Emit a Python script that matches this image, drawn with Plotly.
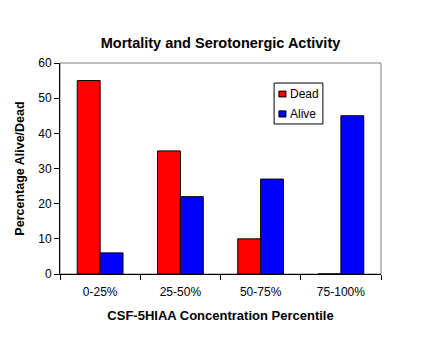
import plotly.graph_objects as go

categories = ["0-25%", "25-50%", "50-75%", "75-100%"]
series_names = ["Dead", "Alive"]
dead = [55, 35, 10, 0]
alive = [6, 22, 27, 45]
y_ticks = [0, 10, 20, 30, 40, 50, 60]
colors = ["#FF0000", "#0000FF"]

font_family = "Liberation Sans, Arial, sans-serif"

fig = go.Figure()
for name, vals, col in zip(series_names, [dead, alive], colors):
    fig.add_trace(go.Bar(name=name, x=categories, y=vals, showlegend=False,
                         marker=dict(color=col, line=dict(color="black", width=1))))

# compact legend box (matches the small classic-style legend)
shapes = [dict(type="rect", xref="paper", yref="paper", x0=0, x1=1, y0=0, y1=1,
               line=dict(color="#808080", width=1), layer="below"),
          dict(type="rect", xref="paper", yref="paper", x0=0.667, x1=0.819,
               y0=0.711, y1=0.905, line=dict(color="black", width=1),
               fillcolor="white", layer="above")]
annotations = []
leg_rows = [(0.839, 0.867), (0.744, 0.773)]
for (ya, yb), name, col in zip(leg_rows, series_names, colors):
    shapes.append(dict(type="rect", xref="paper", yref="paper", x0=0.682, x1=0.704,
                       y0=ya, y1=yb, line=dict(color="black", width=1),
                       fillcolor=col, layer="above"))
    annotations.append(dict(text=name, xref="paper", yref="paper", x=0.711,
                            y=(ya + yb) / 2, xanchor="left", yanchor="middle",
                            showarrow=False, font=dict(size=12)))

fig.update_layout(
    width=445, height=338,
    margin=dict(l=60, r=64, t=63, b=64),
    paper_bgcolor="white", plot_bgcolor="white",
    font=dict(family=font_family, size=12, color="black"),
    barmode="group", bargap=0.43, bargroupgap=0,
    title=dict(text="<b>Mortality and Serotonergic Activity</b>",
               x=0.5, xref="paper", xanchor="center",
               y=1 - 43 / 338, yref="container", yanchor="middle",
               font=dict(size=14.5)),
    showlegend=False,
    xaxis=dict(showline=True, linecolor="black", linewidth=1,
               ticks="outside", tickson="boundaries", ticklen=5, tickcolor="black",
               showgrid=False, ticklabelstandoff=7,
               title=dict(text="<b>CSF-5HIAA Concentration Percentile</b>",
                          font=dict(size=13), standoff=12)),
    yaxis=dict(range=[0, 60], tickvals=y_ticks, showline=True, linecolor="black", linewidth=1,
               ticks="outside", ticklen=5, tickcolor="black", showgrid=False, zeroline=False,
               title=dict(text="<b>Percentage Alive/Dead</b>", font=dict(size=12.5), standoff=10)),
    shapes=shapes,
    annotations=annotations,
)

fig.write_html("out.html")
